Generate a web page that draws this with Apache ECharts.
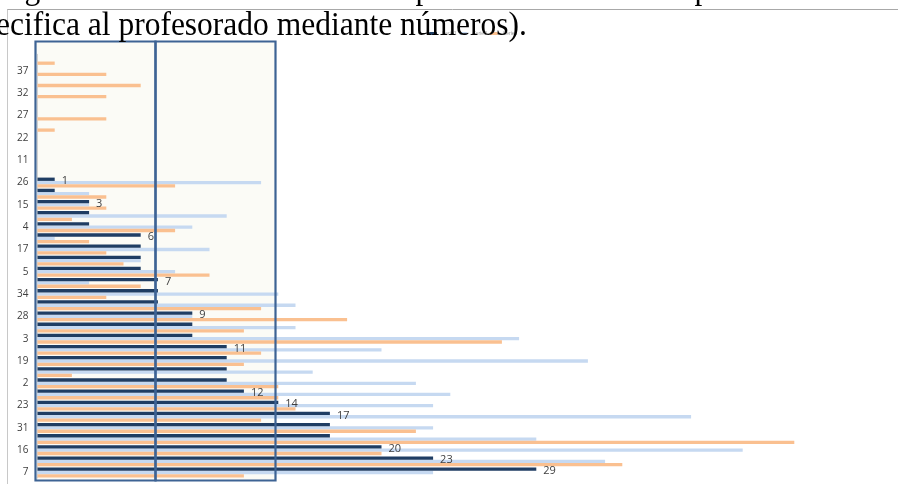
<!DOCTYPE html>
<html>
<head>
<meta charset="utf-8">
<script src="https://cdn.jsdelivr.net/npm/echarts@6/dist/echarts.min.js"></script>
<style>
html,body{margin:0;padding:0;background:#fff;}
#chart{width:898px;height:484px;}
</style>
</head>
<body>
<div id="chart"></div>
<script>
// categories from bottom (index 0) to top; every other label is shown
const categories = ["7","38","16","1","31","6","23","8","2","9","19","10","3","12","28","13","34","14","5","18","17","20","4","21","15","24","26","25","11","29","22","30","27","33","32","35","37","36"];
const seriesNames = ["Serie1","Serie2","Serie3"];
const darkValues = [29,23,20,17,17,17,14,12,11,11,11,11,9,9,9,7,7,7,6,6,6,6,3,3,3,1,1,0,0,0,0,0,0,0,0,0,0,0];
const lightValues = [23,33,41,29,23,38,23,24,22,16,32,20,28,15,9,15,14,3,8,6,10,1,9,11,3,3,13,0,0,0,0,0,0,0,0,0,0,0];
const orangeValues = [12,34,20,44,22,13,15,14,14,2,12,13,27,12,18,13,4,6,10,5,4,3,8,2,4,4,8,0,0,0,0,1,4,0,4,6,4,1];
// category indices whose dark-blue value is labelled
const labelledIdx = [0,1,2,5,6,7,11,14,17,21,24,26];

const chart = echarts.init(document.getElementById('chart'), null, {renderer:'canvas'});

const darkData = darkValues.map((v,i)=>({
  value: v,
  label: {show: labelledIdx.indexOf(i) >= 0}
}));

const option = {
  animation: false,
  backgroundColor: '#ffffff',
  legend: {
    left: 424, top: 26, itemWidth: 8, itemHeight: 3, itemGap: 3,
    textStyle: {fontSize: 5, color: '#9a9a9a'},
    data: seriesNames, z: 1
  },
  grid: {left: 37.5, right: 0.5, top: 54.3, bottom: 5.9, containLabel: false},
  xAxis: {
    type: 'value', min: 0, max: 50, show: false,
    splitLine: {show: false}
  },
  yAxis: {
    type: 'category', data: categories,
    axisLine: {show: true, lineStyle: {color: '#d0d0d0', width: 1}},
    axisTick: {show: false},
    axisLabel: {interval: 1, fontSize: 10, color: '#404040', margin: 9, fontFamily: 'Open Sans'}
  },
  series: [
    {
      name: seriesNames[0], type: 'bar', data: darkData,
      itemStyle: {color: '#1f3d63'},
      barGap: '0%', barCategoryGap: '11%',
      label: {position: 'right', distance: 7, offset: [0, 2], fontSize: 11, color: '#404040', fontFamily: 'Open Sans'},
      z: 4
    },
    {
      name: seriesNames[1], type: 'bar', data: lightValues,
      itemStyle: {color: '#c6d9f1'},
      barGap: '0%', barCategoryGap: '11%', z: 3
    },
    {
      name: seriesNames[2], type: 'bar', data: orangeValues,
      itemStyle: {color: '#fac090'},
      barGap: '0%', barCategoryGap: '11%', z: 3
    }
  ],
  graphic: [
    // rectangle fills (behind bars)
    {type: 'rect', z: -10, shape: {x: 35.5, y: 41.5, width: 120, height: 439}, style: {fill: '#fbfbf6'}},
    {type: 'rect', z: -10, shape: {x: 155.5, y: 41.5, width: 120, height: 439}, style: {fill: '#fbfbf6'}},
    // rectangle outlines (over bars)
    {type: 'rect', z: 100, shape: {x: 35.5, y: 41.5, width: 120, height: 439}, style: {fill: null, stroke: '#3d6394', lineWidth: 2.2}},
    {type: 'rect', z: 100, shape: {x: 155.5, y: 41.5, width: 120, height: 439}, style: {fill: null, stroke: '#3d6394', lineWidth: 2.2}},
    // page lines
    {type: 'line', z: 100, shape: {x1: 7, y1: 9.5, x2: 898, y2: 9.5}, style: {stroke: '#a8a8a8', lineWidth: 1}},
    {type: 'line', z: 100, shape: {x1: 7.5, y1: 9.5, x2: 7.5, y2: 484}, style: {stroke: '#c8c8c8', lineWidth: 1}},
    // clipped previous text line
    {type: 'text', z: 100, x: -6, y: -27, scaleY: 1.07, style: {text: 'el grado de coordinación entre el profesorado en este aspecto es', font: '31.5px "Liberation Serif"', fill: '#000'}},
    // visible document text
    {type: 'text', z: 100, x: -4, y: 9.5, scaleY: 1.07, style: {text: 'ecifica al profesorado mediante números).', font: '31.5px "Liberation Serif"', fill: '#000'}}
  ]
};
chart.setOption(option);
</script>
</body>
</html>
